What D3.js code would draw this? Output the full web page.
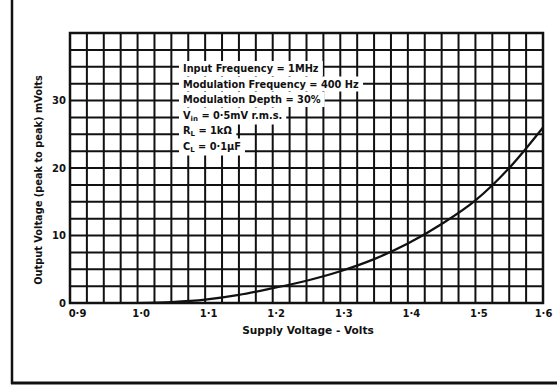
<!DOCTYPE html>
<html>
<head>
<meta charset="utf-8">
<script src="https://cdn.jsdelivr.net/npm/d3@7"></script>
<style>
  body { margin: 0; background: #fff; }
  text { font-family: "DejaVu Sans", "Liberation Sans", sans-serif; font-weight: bold; fill: #111; }
</style>
</head>
<body>
<svg id="chart" width="557" height="386"></svg>
<script>
// supply voltage (V) and output voltage (mV peak to peak)
const supplyVolts = [1.0, 1.05, 1.1, 1.15, 1.2, 1.25, 1.3, 1.35, 1.4, 1.45, 1.5, 1.55, 1.6];
const outputMv    = [0.0, 0.15, 0.5, 1.2, 2.2, 3.3, 4.7, 6.5, 8.8, 11.7, 15.2, 20.0, 26.0];
const xTicks = [0.9, 1.0, 1.1, 1.2, 1.3, 1.4, 1.5, 1.6];
const xTickLabels = ["0·9", "1·0", "1·1", "1·2", "1·3", "1·4", "1·5", "1·6"];
const yTicks = [0, 10, 20, 30];
const notes = [
  ["Input Frequency = 1MHz"],
  ["Modulation Frequency = 400 Hz"],
  ["Modulation Depth = 30%"],
  ["V", "in", " = 0·5mV r.m.s."],
  ["R", "L", " = 1kΩ"],
  ["C", "L", " = 0·1µF"]
];

const svg = d3.select("#chart");
const plotLeft = 70, plotRight = 543, plotTop = 33, plotBottom = 303;

const x = d3.scaleLinear().domain([0.9, 1.6]).range([plotLeft, plotRight]);
const y = d3.scaleLinear().domain([0, 40]).range([plotBottom, plotTop]);

// page frame
svg.append("line").attr("x1", 12).attr("x2", 12).attr("y1", 0).attr("y2", 384)
  .attr("stroke", "#111").attr("stroke-width", 2.5);
svg.append("line").attr("x1", 11).attr("x2", 557).attr("y1", 383).attr("y2", 383)
  .attr("stroke", "#111").attr("stroke-width", 3);

// grid
const g = svg.append("g");
g.selectAll("line.v").data(d3.range(0, 29)).join("line")
  .attr("x1", i => x(0.9 + i * 0.025)).attr("x2", i => x(0.9 + i * 0.025))
  .attr("y1", plotTop).attr("y2", plotBottom)
  .attr("stroke", "#111").attr("stroke-width", 2);
g.selectAll("line.h").data(d3.range(0, 17)).join("line")
  .attr("y1", i => y(i * 2.5)).attr("y2", i => y(i * 2.5))
  .attr("x1", plotLeft).attr("x2", plotRight)
  .attr("stroke", "#111").attr("stroke-width", 2);
g.append("rect").attr("x", plotLeft).attr("y", plotTop)
  .attr("width", plotRight - plotLeft).attr("height", plotBottom - plotTop)
  .attr("fill", "none").attr("stroke", "#111").attr("stroke-width", 2.5);

// axes labels
const xAxis = svg.append("g").attr("transform", `translate(0,${plotBottom})`)
  .call(d3.axisBottom(x).tickValues(xTicks).tickSize(0).tickPadding(7)
    .tickFormat((d, i) => xTickLabels[i]));
xAxis.select(".domain").remove();
xAxis.selectAll("text").attr("font-size", 10).attr("fill", "#111")
  .attr("dx", (d, i) => i === 0 ? 7 : (i === xTicks.length - 1 ? 0 : 3));

const yAxis = svg.append("g").attr("transform", `translate(${plotLeft},0)`)
  .call(d3.axisLeft(y).tickValues(yTicks).tickSize(0).tickPadding(4));
yAxis.select(".domain").remove();
yAxis.selectAll("text").attr("font-size", 10).attr("fill", "#111");

svg.append("text").attr("x", 308).attr("y", 334).attr("text-anchor", "middle")
  .attr("font-size", 10.6).text("Supply Voltage - Volts");
svg.append("text").attr("transform", "translate(42,180) rotate(-90)")
  .attr("text-anchor", "middle").attr("font-size", 9.8)
  .text("Output Voltage (peak to peak) mVolts");

// notes with white backing
const notesG = svg.append("g");
notes.forEach((parts, i) => {
  const ty = 72 + i * 15.5;
  const t = notesG.append("text").attr("x", 183).attr("y", ty).attr("font-size", 9.8);
  t.append("tspan").text(parts[0]);
  if (parts.length > 1) {
    t.append("tspan").attr("font-size", 7).attr("dy", 2).text(parts[1]);
    t.append("tspan").attr("dy", -2).text(parts[2]);
  }
  const bb = t.node().getBBox();
  notesG.insert("rect", "text").attr("x", bb.x - 4).attr("y", bb.y - 2)
    .attr("width", bb.width + 8).attr("height", bb.height + 4).attr("fill", "#fff");
});

// curve
const line = d3.line().x(d => x(d[0])).y(d => y(d[1])).curve(d3.curveMonotoneX);
svg.append("path").datum(d3.zip(supplyVolts, outputMv))
  .attr("d", line).attr("fill", "none").attr("stroke", "#111").attr("stroke-width", 2.2);
</script>
</body>
</html>
